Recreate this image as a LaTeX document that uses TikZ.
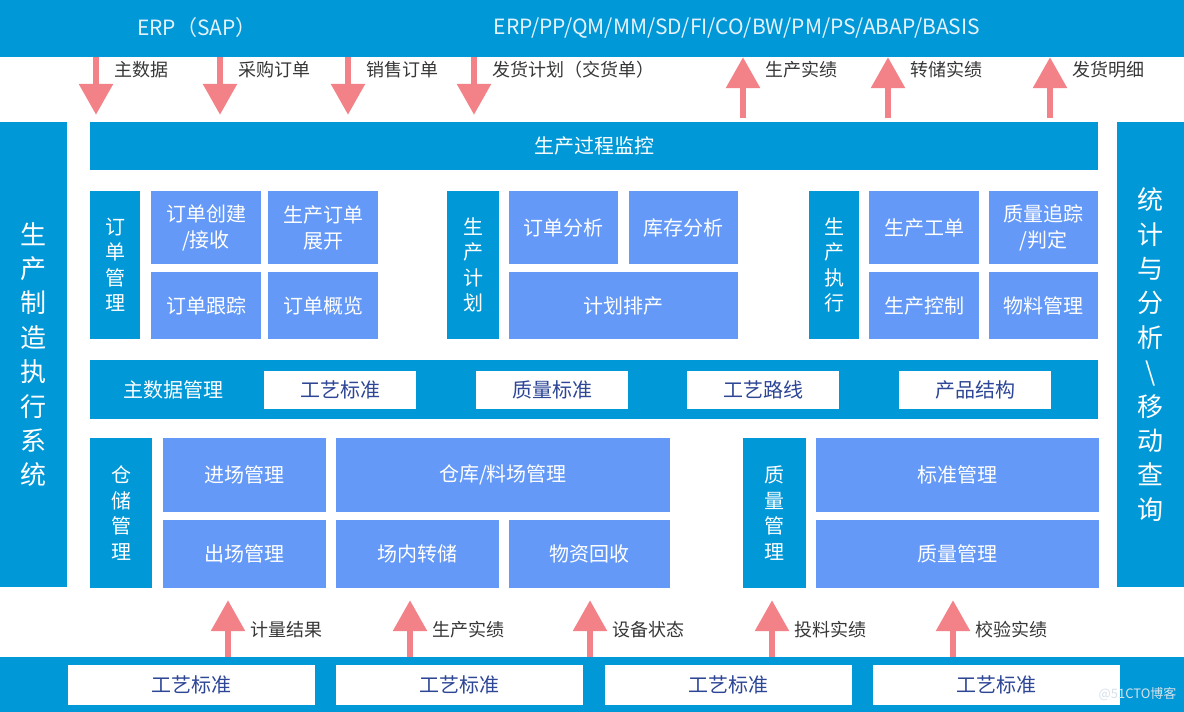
\documentclass[tikz,border=0pt]{standalone}
\usepackage{fontspec}
\setmainfont{Noto Sans CJK SC}
\usetikzlibrary{arrows.meta,positioning}
\definecolor{barblue}{RGB}{0,152,215}
\definecolor{blkblue}{RGB}{100,153,247}
\definecolor{arrpink}{RGB}{242,130,135}
\definecolor{lbltext}{RGB}{55,55,55}
\definecolor{boxtext}{RGB}{45,70,150}
\definecolor{erptext}{RGB}{228,242,252}
\definecolor{marktext}{RGB}{215,225,235}
\tikzset{
  boxsize/.style 2 args={minimum width=#1pt, minimum height=#2pt},
  bar/.style={fill=barblue, text=white, inner sep=0pt},
  blk/.style={fill=blkblue, text=white, inner sep=0pt, align=center, font=\fontsize{20}{26}\selectfont},
  wbox/.style={fill=white, text=boxtext, inner sep=0pt, font=\fontsize{20}{24}\selectfont},
  vlabel/.style={bar, align=center, font=\fontsize{20}{25.5}\selectfont},
  sidecol/.style={bar, align=center, font=\fontsize{26}{34.4}\selectfont},
  flow/.style={arrpink, line width=6pt, -{Triangle[width=33pt,length=31pt]}},
  flowlbl/.style={anchor=west, text=lbltext, inner sep=0pt, font=\fontsize{18}{21}\selectfont},
}
\begin{document}
\begin{tikzpicture}[x=1pt, y=-1pt]
  \useasboundingbox (0,0) rectangle (1184,712);
  % ERP on top, field level below, system names on both sides
  \node[bar, boxsize={1184}{57}] (erp) at (592,28.5) {};
  \node[text=erptext, font=\fontsize{21}{24}\selectfont] (erpname) at (197,28) {ERP（SAP）};
  \node[text=erptext, font=\fontsize{21}{24}\selectfont] (erpmods) at (737,28) {ERP/PP/QM/MM/SD/FI/CO/BW/PM/PS/ABAP/BASIS};
  \node[bar, boxsize={1184}{55}] (field) at (592,684.5) {};
  \node[sidecol, boxsize={67}{465}] (mes) at (33.5,354.5) {生\\产\\制\\造\\执\\行\\系\\统};
  \node[sidecol, boxsize={67}{465}] (stat) at (1150.5,354.5) {统\\计\\与\\分\\析\\\textbackslash\\移\\动\\查\\询};

  % monitoring
  \node[bar, boxsize={1008}{48}, font=\fontsize{20}{24}\selectfont] (monitor) at (594,146) {生产过程监控};

  % order management
  \node[vlabel, boxsize={50}{148}] (order) at (115,265) {订\\单\\管\\理};
  \node[blk, boxsize={110}{73}] (ordnew) at (206,227.5) {订单创建\\/接收};
  \node[blk, boxsize={110}{73}] (ordexp) at (323,227.5) {生产订单\\展开};
  \node[blk, boxsize={110}{67}] (ordtrack) at (206,305.5) {订单跟踪};
  \node[blk, boxsize={110}{67}] (ordview) at (323,305.5) {订单概览};

  % production planning
  \node[vlabel, boxsize={52}{148}] (plan) at (473,265) {生\\产\\计\\划};
  \node[blk, boxsize={109}{73}] (ordana) at (563.5,227.5) {订单分析};
  \node[blk, boxsize={109}{73}] (stockana) at (683.5,227.5) {库存分析};
  \node[blk, boxsize={229}{67}] (sched) at (623.5,305.5) {计划排产};

  % production execution
  \node[vlabel, boxsize={50}{148}] (exec) at (834,265) {生\\产\\执\\行};
  \node[blk, boxsize={110}{73}] (workord) at (924,227.5) {生产工单};
  \node[blk, boxsize={109}{73}] (trace) at (1043.5,227.5) {质量追踪\\/判定};
  \node[blk, boxsize={110}{67}] (ctrl) at (924,305.5) {生产控制};
  \node[blk, boxsize={109}{67}] (matl) at (1043.5,305.5) {物料管理};

  % master data
  \node[bar, boxsize={1008}{59}] (master) at (594,389.5) {};
  \node[text=white, font=\fontsize{20}{24}\selectfont] (mastername) at (173,390) {主数据管理};
  \foreach \x/\name/\txt in {340/procstd/工艺标准, 552/qualstd/质量标准, 763/route/工艺路线, 975/bom/产品结构}
    \node[wbox, boxsize={152}{38}] (\name) at (\x,389.5) {\txt};

  % warehouse
  \node[vlabel, boxsize={62}{150}] (store) at (121,513) {仓\\储\\管\\理};
  \node[blk, boxsize={163}{74}] (whin) at (244.5,475) {进场管理};
  \node[blk, boxsize={334}{74}] (whyard) at (503,475) {仓库/料场管理};
  \node[blk, boxsize={163}{68}] (whout) at (244.5,554) {出场管理};
  \node[blk, boxsize={163}{68}] (whmove) at (417.5,554) {场内转储};
  \node[blk, boxsize={161}{68}] (whback) at (589.5,554) {物资回收};

  % quality
  \node[vlabel, boxsize={63}{150}] (quality) at (774.5,513) {质\\量\\管\\理};
  \node[blk, boxsize={283}{74}] (qstd) at (957.5,475) {标准管理};
  \node[blk, boxsize={283}{68}] (qmgmt) at (957.5,554) {质量管理};

  % field level boxes
  \foreach \x [count=\i] in {191.5,459.5,728.5,996.5}
    \node[wbox, boxsize={247}{40}] (dev\i) at (\x,685) {工艺标准};
  \node[text=marktext, anchor=east, font=\fontsize{13}{15}\selectfont] (mark) at (1180,694) {@51CTO博客};

  % ERP -> MES
  \foreach \x/\txt [count=\i] in {96/主数据, 220/采购订单, 348/销售订单, 474/发货计划（交货单）} {
    \draw[flow, shorten >=7pt] (erp.south -| \x,0) -- (monitor.north -| \x,0);
    \node[flowlbl] (inlbl\i) at (\x+18,70) {\txt};
  }
  % MES -> ERP
  \foreach \x/\txt [count=\i] in {743/生产实绩, 888/转储实绩, 1050/发货明细} {
    \draw[flow, shorten <=4pt] (monitor.north -| \x,0) -- (erp.south -| \x,0);
    \node[flowlbl] (outlbl\i) at (\x+22,70) {\txt};
  }
  % field level -> MES
  \foreach \x/\tgt/\txt [count=\i] in {228/whout/计量结果, 410/whmove/生产实绩, 590/whback/设备状态, 772/quality/投料实绩, 953/qmgmt/校验实绩} {
    \draw[flow, shorten >=12pt] (field.north -| \x,0) -- (\tgt.south -| \x,0);
    \node[flowlbl] (fieldlbl\i) at (\x+22,630) {\txt};
  }
\end{tikzpicture}
\end{document}
